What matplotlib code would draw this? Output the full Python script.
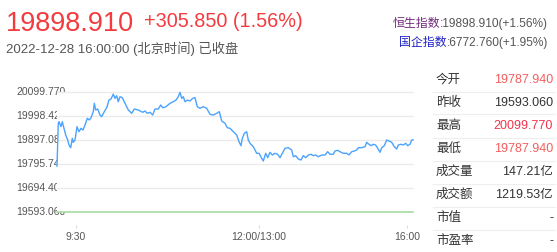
import matplotlib
matplotlib.use('Agg')
import matplotlib.pyplot as plt

plt.rcParams['font.family'] = ['Liberation Sans', 'Noto Sans CJK SC']

# intraday series: minutes from the first point, index level
minutes = [0, 1.3, 2, 4, 5.3, 7, 8.7, 10.7, 12, 13.7, 15.3, 16.3, 18, 20, 22, 24, 26, 28,
           30.3, 32.3, 34, 36.3, 37.3, 38.7, 40.7, 43, 44.7, 47.3, 49.7, 52, 54, 56.3, 58,
           59.7, 61.3, 63, 65.3, 68, 71.3, 74.7, 77.3, 81.3, 85.7, 88, 90.3, 93, 95.7, 98,
           101.3, 103.7, 105.7, 109, 113, 116.3, 119, 121.3, 123, 124.7, 126.3, 128, 130.3,
           133, 135.7, 138, 140.3, 143, 146.3, 149.7, 153, 156.3, 159.7, 162.3, 164.7, 168,
           170.3, 173, 176.3, 179.7, 182, 184, 185.3, 187.3, 189.7, 191.3, 193, 196.3, 199.7,
           202, 204.7, 206.3, 208.7, 210.7, 213, 215.3, 218, 220.7, 223, 225.3, 228, 231.3,
           234.7, 236.3, 238.7, 241.3, 244, 246.3, 248.7, 251.3, 254, 256.3, 258.7, 261.3,
           264.7, 268, 270.7, 273, 276.3, 278, 280.7, 283, 286.3, 289.7, 292, 294.7, 297.3,
           299.7, 301.3, 304.7, 308, 309.7, 312, 314, 316.3, 318.7, 320.7, 323, 324.7, 327.3,
           329.7, 332, 334.7, 337.3, 339.7, 341.3, 344, 346.3, 348.7, 350.7, 353, 354.7, 356]
prices = [19787.94, 19968.9, 19975.6, 19954.5, 19975.6, 19947.8, 19919.5, 19898.3, 19877.2,
          19865.8, 19905.5, 19888.6, 19898.3, 19954.5, 19933.4, 19947.8, 19940.6, 19961.7,
          19990.0, 19982.8, 19992.5, 20017.9, 20053.3, 20025.0, 20029.2, 20003.9, 19996.7,
          20017.9, 20034.7, 20067.2, 20071.5, 20092.0, 20074.4, 20085.4, 20060.1, 20081.2,
          20077.0, 20053.3, 20025.0, 20011.1, 20029.2, 20025.0, 20015.3, 20020.8, 20011.1,
          20015.3, 20003.9, 20029.2, 20029.2, 20046.2, 20034.7, 20039.0, 20053.3, 20060.1,
          20067.2, 20081.2, 20099.77, 20074.4, 20081.2, 20060.1, 20067.2, 20063.0, 20074.4,
          20077.0, 20039.0, 20032.2, 20039.0, 20032.2, 20006.9, 20003.9, 20011.1, 20017.9,
          19978.6, 19968.9, 19950.3, 19947.8, 19933.4, 19919.5, 19891.2, 19874.3, 19905.5,
          19926.7, 19933.4, 19898.3, 19884.5, 19870.1, 19842.2, 19842.2, 19821.1, 19809.7,
          19842.2, 19823.6, 19846.4, 19835.0, 19842.2, 19838.0, 19823.6, 19842.2, 19863.3,
          19865.8, 19856.1, 19827.8, 19832.1, 19818.1, 19813.9, 19832.1, 19823.6, 19835.0,
          19838.0, 19832.1, 19835.0, 19827.8, 19835.0, 19835.0, 19849.0, 19838.0, 19838.0,
          19851.9, 19854.9, 19849.0, 19842.2, 19842.2, 19835.0, 19849.0, 19851.9, 19856.1,
          19865.8, 19865.8, 19870.1, 19888.6, 19880.2, 19874.3, 19880.2, 19877.2, 19863.3,
          19846.4, 19865.8, 19874.3, 19898.3, 19894.2, 19888.6, 19870.1, 19860.4, 19877.2,
          19880.2, 19877.2, 19884.5, 19874.3, 19880.2, 19898.3, 19898.91]

prev_close = 19593.06
y_ticks = [20099.770, 19998.428, 19897.086, 19795.744, 19694.402, 19593.060]
x_tick_pos = [19, 202, 350]
x_tick_labels = ['9:30', '12:00/13:00', '16:00']

row_labels = ['今开', '昨收', '最高', '最低', '成交量', '成交额', '市值', '市盈率']
row_values = ['19787.940', '19593.060', '20099.770', '19787.940', '147.21亿', '1219.53亿', '-', '-']
row_colors = ['#f45d5d', '#333333', '#f0344c', '#f45d5d', '#333333', '#333333', '#333333', '#333333']

W, H = 557, 252
fig = plt.figure(figsize=(W / 100, H / 100), dpi=100)


def fx(x):
    return x / W


def fy(y):
    return 1 - y / H


# header
red = '#f33b3f'
fig.text(fx(6), fy(30.7), '19898.910', color=red, fontsize=19.5, va='baseline')
fig.text(fx(144), fy(27.3), '+305.850 (1.56%)', color=red, fontsize=14.3, va='baseline')
fig.text(fx(6), fy(53), '2022-12-28 16:00:00 (北京时间) 已收盘', color='#555555',
         fontsize=9.5, va='baseline')

renderer = fig.canvas.get_renderer()
for name, num, col, base in [('恒生指数', ':19898.910(+1.56%)', '#74297f', 26.7),
                             ('国企指数', ':6772.760(+1.95%)', '#1f22c8', 45.7)]:
    t = fig.text(fx(548), fy(base), num, color='#555555', fontsize=8.6,
                 ha='right', va='baseline')
    bb = t.get_window_extent(renderer)
    fig.text(bb.x0 / W, fy(base), name, color=col, fontsize=8.6,
             ha='right', va='baseline')

# y labels sit under the plot area, which hides part of them
for v in y_ticks:
    y = 212.3 - (v - prev_close) / 4.2225
    fig.text(fx(16), fy(y), '%.3f' % v, color='#555555', fontsize=7.5,
             va='center', ha='left', zorder=-1)

ax = fig.add_axes([fx(57), fy(212.3), (413 - 57) / W, 120 / H])
ax.set_facecolor('white')
ax.set_xlim(0, 356)
ax.set_ylim(prev_close, y_ticks[0])
for v in y_ticks[:-1]:
    ax.axhline(v, color='#ebebeb', lw=1, clip_on=False, zorder=1)
ax.axhline(prev_close, color='#a6dc9f', lw=1.2, clip_on=False, zorder=2)
ax.plot(minutes, prices, color='#4ba3ff', lw=1.0, clip_on=False, zorder=3)

for s in ax.spines.values():
    s.set_visible(False)
ax.spines['bottom'].set_position(('outward', 9.5))
ax.set_yticks([])
ax.set_xticks(x_tick_pos)
ax.set_xticklabels(x_tick_labels)
ax.tick_params(axis='x', length=2.5, color='#dddddd', labelsize=7.5,
               labelcolor='#555555', pad=2.5)

# right table
for i, (lab, val, col) in enumerate(zip(row_labels, row_values, row_colors)):
    yc = 80 + i * 23
    fig.text(fx(436), fy(yc), lab, color='#333333', fontsize=9, va='center')
    fig.text(fx(553), fy(yc), val, color=col, fontsize=9, va='center', ha='right')
    if i < len(row_labels) - 1:
        fig.add_artist(plt.Line2D([fx(433), fx(555)], [fy(yc + 11.5), fy(yc + 11.5)],
                                  color='#eeeeee', lw=0.8))

fig.savefig('out.png', dpi=100)
